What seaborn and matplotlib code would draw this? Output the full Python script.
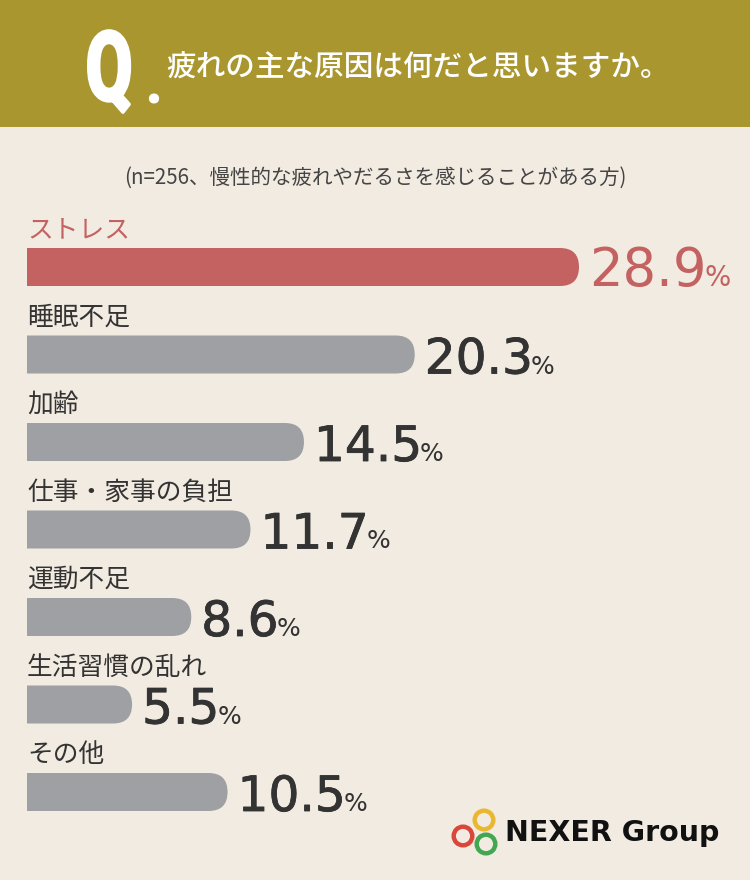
import matplotlib
matplotlib.use("Agg")
import matplotlib.pyplot as plt
import seaborn as sns
import pandas as pd
from matplotlib.patches import FancyBboxPatch, Rectangle, Circle
from matplotlib.patheffects import AbstractPathEffect, withStroke
from matplotlib.transforms import Affine2D

# data
categories = ["ストレス", "睡眠不足", "加齢", "仕事・家事の負担", "運動不足", "生活習慣の乱れ", "その他"]
values = [28.9, 20.3, 14.5, 11.7, 8.6, 5.5, 10.5]
value_labels = ["28.9", "20.3", "14.5", "11.7", "8.6", "5.5", "10.5"]
title = "疲れの主な原因は何だと思いますか。"
subtitle = "(n=256、慢性的な疲れやだるさを感じることがある方)"

BG = "#F2EBE1"
HEADER = "#A9962F"
RED = "#C46161"
GRAY = "#9EA0A3"
DARK = "#333333"


class HSqueeze(AbstractPathEffect):
    # narrows glyphs horizontally around x0 (display px), text stays text
    def __init__(self, x0, sx, lw=0):
        super().__init__()
        self.x0, self.sx, self.lw = x0, sx, lw

    def draw_path(self, renderer, gc, tpath, affine, rgbFace=None):
        t = affine + Affine2D().translate(-self.x0, 0).scale(self.sx, 1).translate(self.x0, 0)
        gc0 = renderer.new_gc()
        gc0.copy_properties(gc)
        if self.lw:
            gc0.set_linewidth(self.lw)
            gc0.set_foreground(rgbFace)
        renderer.draw_path(gc0, tpath, t, rgbFace)
        gc0.restore()


sns.set_theme(style="white")
plt.rcParams["font.family"] = ["Noto Sans CJK JP", "DejaVu Sans"]

df = pd.DataFrame({"category": categories, "value": values})
palette = {c: (RED if i == 0 else GRAY) for i, c in enumerate(categories)}

W, H = 750, 880
fig = plt.figure(figsize=(W / 100, H / 100), dpi=100)
fig.patch.set_facecolor(BG)

# header band
fig.patches.append(Rectangle((0, 1 - 127 / H), 1, 127 / H, transform=fig.transFigure,
                             facecolor=HEADER, edgecolor="none", zorder=0))
fig.text(86 / W, 1 - 100 / H, "Q", color="white", fontsize=69, fontweight="bold",
         family=["Roboto", "DejaVu Sans"], ha="left", va="baseline",
         path_effects=[HSqueeze(86, 0.70, lw=2.5)])
fig.text(144 / W, 1 - 103 / H, ".", color="white", fontsize=46, fontweight="bold",
         family=["Roboto", "DejaVu Sans"], ha="left", va="baseline")
fig.text(166 / W, 1 - 68 / H, title, color="white", fontsize=21.3, fontweight="medium",
         ha="left", va="center")
fig.text(375 / W, 1 - 178 / H, subtitle, color="#444444", fontsize=14.8,
         ha="center", va="center")

# chart axes: 19.1 px per percent, 87.5 px per row
px_x, px_y = 19.1, 87.5
left = 27
ax = fig.add_axes([left / W, 0, 1 - left / W, 1])
ax.set_facecolor("none")
bar_h = 38 / px_y
sns.barplot(data=df, x="value", y="category", hue="category", palette=palette,
            orient="h", width=bar_h, saturation=1, legend=False, ax=ax)
ax.set_xlim(0, (W - left) / px_x)
ax.set_ylim((H - 267) / px_y, -267 / px_y)
ax.axis("off")

# rounded right ends; left rounding pushed outside the clipped axes
asp = (1 / px_y) / (1 / px_x)
r = 19 / px_x
for p in list(ax.patches):
    x0, y0, w, h = p.get_x(), p.get_y(), p.get_width(), p.get_height()
    col = p.get_facecolor()
    p.remove()
    ax.add_patch(FancyBboxPatch((x0 - 2 * r, y0), w + 2 * r, h,
                                boxstyle=f"round,pad=0,rounding_size={r}",
                                mutation_aspect=asp, facecolor=col, edgecolor="none"))

for i, (cat, v, lab) in enumerate(zip(categories, values, value_labels)):
    col = RED if i == 0 else DARK
    ax.text(0, i - 37 / px_y, cat, color=col, fontsize=18.5, ha="left", va="center")
    base = i + bar_h / 2
    fx = [] if i == 0 else [withStroke(linewidth=0.6, foreground=col)]
    num = ax.text(v + 10 / px_x, base, lab, color=col, fontsize=38 if i == 0 else 35,
                  family=["DejaVu Sans"], ha="left", va="baseline", path_effects=fx)
    ax.annotate("%", xy=(1, base), xycoords=(num, "data"), xytext=(-1.5, 0),
                textcoords="offset points", color=col, fontsize=20 if i == 0 else 18,
                family=["DejaVu Sans"], ha="left", va="baseline")

# logo
for cx, cy, c in [(484, 820, "#E9B731"), (463, 836, "#D9473A"), (486, 844, "#43A650")]:
    fig.patches.append(Circle((cx / 100, (H - cy) / 100), 0.093, transform=fig.dpi_scale_trans,
                              facecolor="none", edgecolor=c, linewidth=3.2))
fig.text(505 / W, 1 - 833 / H, "NEXER Group", color="#111111", fontsize=20.5,
         fontweight="bold", family=["DejaVu Sans"], ha="left", va="center")

fig.savefig("out.png", dpi=100, facecolor=BG)
